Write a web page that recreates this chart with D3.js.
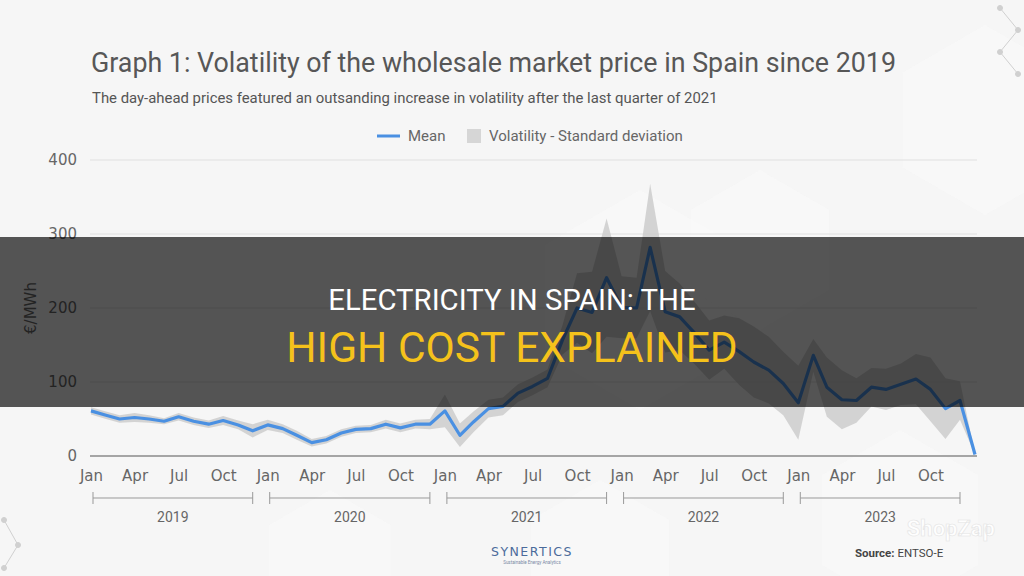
<!DOCTYPE html>
<html>
<head>
<meta charset="utf-8">
<script src="https://cdn.jsdelivr.net/npm/d3@7.9.0/dist/d3.min.js"></script>
<style>
  html, body { margin: 0; padding: 0; background: #f6f6f6; }
  svg { display: block; }
</style>
</head>
<body>
<svg id="chart" width="1024" height="576"></svg>
<script>
// monthly day-ahead price, Jan 2019 .. Jan 2024 (€/MWh)
const startYear = 2019;
const meanPrice = [
  61, 55, 50, 52, 50, 47, 53, 47, 43, 48, 42, 34,
  42, 37, 28, 18, 22, 31, 36, 37, 43, 38, 43, 43,
  61, 28, 46, 64, 67, 85, 94, 105, 157, 200, 194, 241,
  201, 200, 282, 195, 188, 166, 143, 154, 141, 127, 116, 98,
  72, 136, 93, 76, 75, 93, 90, 97, 104, 90, 64, 75,
  2
];
const stdDev = [
  5, 5, 5, 6, 5, 4, 5, 5, 5, 6, 6, 9,
  7, 6, 6, 5, 5, 5, 5, 5, 6, 6, 6, 7,
  22, 16, 14, 12, 12, 12, 12, 12, 20, 47, 55, 80,
  42, 41, 86, 55, 45, 42, 40, 36, 45, 48, 45, 43,
  50, 22, 40, 40, 30, 26, 28, 28, 34, 43, 41, 26,
  0
];
const yTicks = [0, 100, 200, 300, 400];
const years = [2019, 2020, 2021, 2022, 2023];

const svg = d3.select('#chart');

const data = meanPrice.map((v, i) => ({
  date: new Date(startYear, i, 1),
  mean: v,
  sd: stdDev[i]
}));

const x = d3.scaleTime()
  .domain([new Date(2019, 0, 1), new Date(2024, 0, 1)])
  .range([91, 975]);

const y = d3.scaleLinear()
  .domain([0, 400])
  .range([456, 160]);

// faint hexagon background
const hex = (cx, cy, r) => d3.range(6).map(k => {
  const a = Math.PI / 3 * k + Math.PI / 6;
  return [cx + r * Math.cos(a), cy + r * Math.sin(a)];
});
const hexes = [[985, 120, 95], [640, 300, 110], [900, 520, 90], [760, 250, 80], [330, 560, 70], [600, 560, 80]];
svg.append('g')
  .selectAll('polygon')
  .data(hexes)
  .join('polygon')
  .attr('points', d => hex(d[0], d[1], d[2]).join(' '))
  .attr('fill', '#fafafa')
  .attr('opacity', 0.7);

// small network deco
const deco = svg.append('g').attr('stroke', '#d0d0d0').attr('fill', '#d0d0d0');
[[1000, 8, 1018, 30], [1018, 30, 1000, 52], [1000, 52, 1018, 74], [4, 520, 18, 545], [18, 545, 4, 568]].forEach(l => {
  deco.append('line').attr('x1', l[0]).attr('y1', l[1]).attr('x2', l[2]).attr('y2', l[3]).attr('stroke-width', 1);
});
[[1000, 8], [1018, 30], [1000, 52], [1018, 74], [4, 520], [18, 545], [4, 568]].forEach(p => {
  deco.append('circle').attr('cx', p[0]).attr('cy', p[1]).attr('r', 2.5);
});

// title
svg.append('text')
  .attr('x', 91).attr('y', 72)
  .attr('font-family', 'Roboto, sans-serif')
  .attr('font-size', 26.8)
  .attr('fill', '#575757')
  .text('Graph 1: Volatility of the wholesale market price in Spain since 2019');

svg.append('text')
  .attr('x', 92).attr('y', 103)
  .attr('font-family', 'Roboto, sans-serif')
  .attr('font-size', 14.9)
  .attr('fill', '#555')
  .text('The day-ahead prices featured an outsanding increase in volatility after the last quarter of 2021');

// legend
const legend = svg.append('g').attr('font-family', 'Roboto, sans-serif').attr('font-size', 15).attr('fill', '#666');
legend.append('line')
  .attr('x1', 377).attr('x2', 400).attr('y1', 136).attr('y2', 136)
  .attr('stroke', '#4a90e2').attr('stroke-width', 3);
legend.append('text').attr('x', 408).attr('y', 141).text('Mean');
legend.append('rect')
  .attr('x', 467).attr('y', 129).attr('width', 14).attr('height', 14)
  .attr('fill', '#d6d6d6');
legend.append('text').attr('x', 489).attr('y', 141).text('Volatility - Standard deviation');

// grid + y labels
svg.append('g')
  .selectAll('line')
  .data(yTicks)
  .join('line')
  .attr('x1', 90).attr('x2', 977)
  .attr('y1', d => y(d)).attr('y2', d => y(d))
  .attr('stroke', d => d === 0 ? '#8a8a8a' : '#e0e0e0')
  .attr('stroke-width', d => d === 0 ? 1.3 : 1);

svg.append('g')
  .selectAll('text')
  .data(yTicks)
  .join('text')
  .attr('x', 77)
  .attr('y', d => y(d))
  .attr('dy', '0.36em')
  .attr('text-anchor', 'end')
  .attr('font-family', 'DejaVu Sans, sans-serif')
  .attr('font-size', 15)
  .attr('fill', '#666')
  .text(d => d);

svg.append('text')
  .attr('transform', 'translate(36,308) rotate(-90)')
  .attr('text-anchor', 'middle')
  .attr('font-family', 'DejaVu Sans, sans-serif')
  .attr('font-size', 15)
  .attr('fill', '#666')
  .text('€/MWh');

// x axis
const xAxis = d3.axisBottom(x)
  .tickValues(d3.timeMonth.every(3).range(new Date(2019, 0, 1), new Date(2024, 0, 1)))
  .tickFormat(d3.timeFormat('%b'))
  .tickSize(0)
  .tickPadding(14);

const gx = svg.append('g')
  .attr('transform', 'translate(0,456)')
  .call(xAxis);
gx.select('.domain').remove();
gx.selectAll('text')
  .attr('font-family', 'DejaVu Sans, sans-serif')
  .attr('font-size', 15)
  .attr('fill', '#666');

// year brackets
const yearG = svg.append('g').attr('stroke', '#999').attr('stroke-width', 1);
years.forEach(yr => {
  const x0 = x(new Date(yr, 0, 1)) + 2;
  const x1 = x(new Date(yr, 11, 1));
  yearG.append('line').attr('x1', x0).attr('x2', x1).attr('y1', 498).attr('y2', 498);
  yearG.append('line').attr('x1', x0).attr('x2', x0).attr('y1', 492).attr('y2', 504);
  yearG.append('line').attr('x1', x1).attr('x2', x1).attr('y1', 492).attr('y2', 504);
  svg.append('text')
    .attr('x', (x0 + x1) / 2).attr('y', 522)
    .attr('text-anchor', 'middle')
    .attr('font-family', 'Roboto, sans-serif')
    .attr('font-size', 14)
    .attr('fill', '#666')
    .text(yr);
});

// volatility band
const area = d3.area()
  .x(d => x(d.date))
  .y0(d => y(Math.max(0, d.mean - d.sd)))
  .y1(d => y(d.mean + d.sd));

svg.append('path')
  .datum(data)
  .attr('d', area)
  .attr('fill', '#cdcdcd')
  .attr('opacity', 0.85);

// mean line
const line = d3.line()
  .x(d => x(d.date))
  .y(d => y(d.mean));

svg.append('path')
  .datum(data)
  .attr('d', line)
  .attr('fill', 'none')
  .attr('stroke', '#4a90e2')
  .attr('stroke-width', 3.2)
  .attr('stroke-linejoin', 'round');

// footer
svg.append('text')
  .attr('x', 532).attr('y', 556)
  .attr('text-anchor', 'middle')
  .attr('font-family', 'DejaVu Sans, sans-serif')
  .attr('font-size', 12.5)
  .attr('letter-spacing', 1.5)
  .attr('fill', '#4b6b9b')
  .text('SYNERTICS');
svg.append('text')
  .attr('x', 532).attr('y', 564)
  .attr('text-anchor', 'middle')
  .attr('font-family', 'Roboto, sans-serif')
  .attr('font-size', 4.5)
  .attr('fill', '#7a8aa5')
  .text('Sustainable Energy Analytics');

// watermark (kept above the source line)
svg.append('text')
  .attr('x', 995).attr('y', 536)
  .attr('text-anchor', 'end')
  .attr('font-family', 'Roboto, sans-serif')
  .attr('font-weight', 'bold')
  .attr('font-size', 22)
  .attr('fill', '#fff')
  .attr('stroke', '#e2e2e2')
  .attr('stroke-width', 0.6)
  .attr('opacity', 0.9)
  .text('ShopZap');

const src = svg.append('text')
  .attr('x', 855).attr('y', 557)
  .attr('font-family', 'Roboto, sans-serif')
  .attr('font-size', 11.5)
  .attr('fill', '#444');
src.append('tspan').attr('font-weight', 'bold').text('Source: ');
src.append('tspan').text('ENTSO-E');

// headline banner over the chart
svg.append('rect')
  .attr('x', 0).attr('y', 237)
  .attr('width', 1024).attr('height', 170)
  .attr('fill', '#000')
  .attr('opacity', 0.66);

svg.append('text')
  .attr('x', 512).attr('y', 310)
  .attr('text-anchor', 'middle')
  .attr('font-family', 'Roboto, sans-serif')
  .attr('font-size', 29.3)
  .attr('fill', '#fff')
  .text('ELECTRICITY IN SPAIN: THE');

svg.append('text')
  .attr('x', 512).attr('y', 362)
  .attr('text-anchor', 'middle')
  .attr('font-family', 'Roboto, sans-serif')
  .attr('font-size', 42.5)
  .attr('fill', '#f5c21b')
  .text('HIGH COST EXPLAINED');
</script>
</body>
</html>
